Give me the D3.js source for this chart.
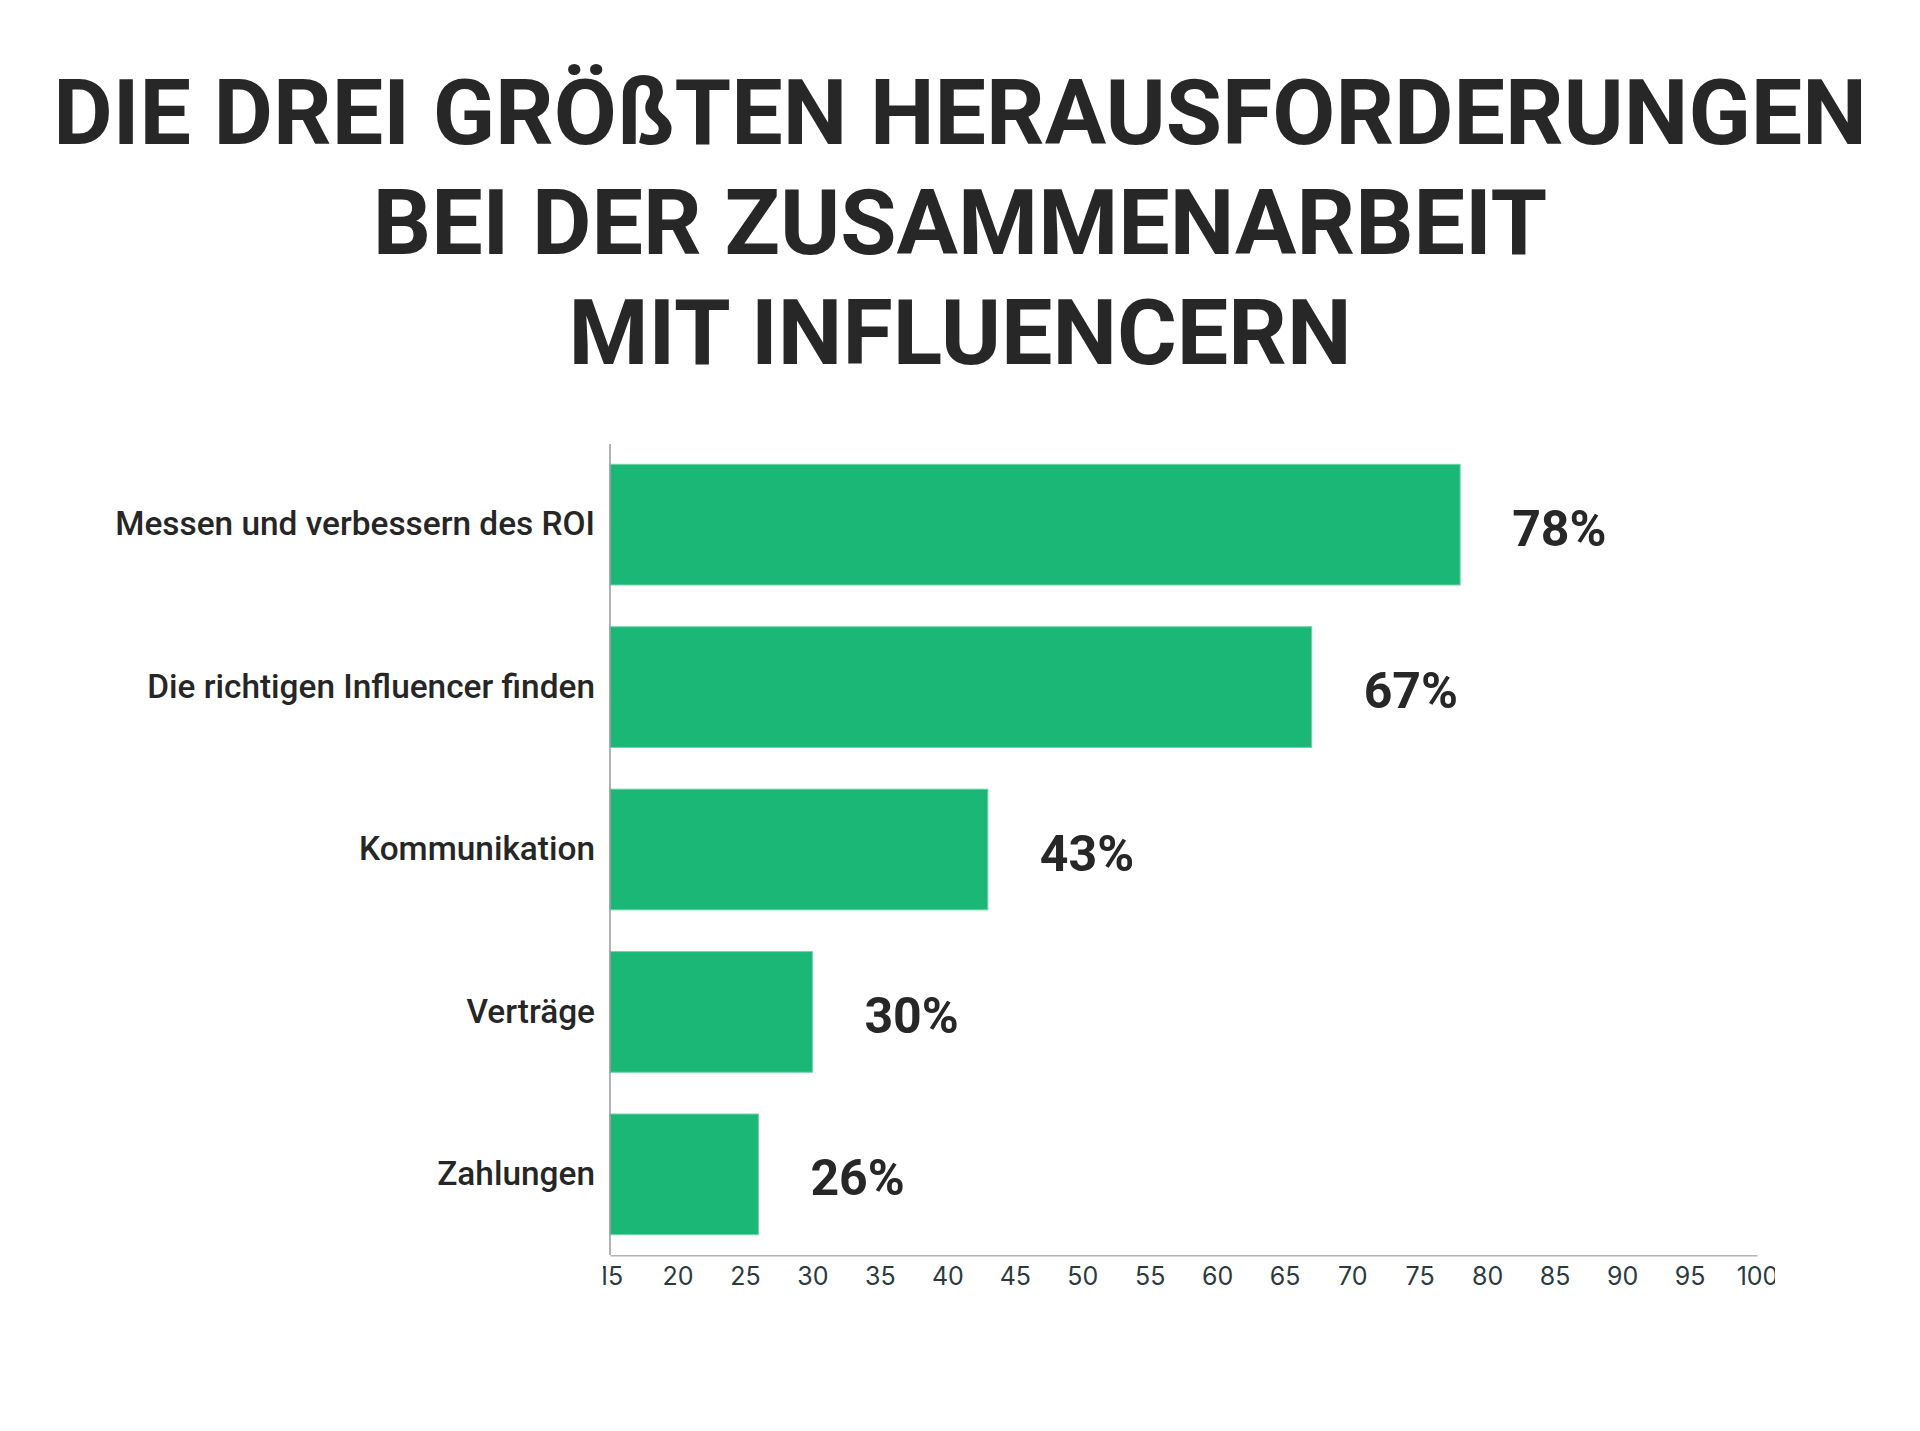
<!DOCTYPE html>
<html>
<head>
<meta charset="utf-8">
<script src="https://cdn.jsdelivr.net/npm/d3@7"></script>
<style>
  html, body { margin: 0; padding: 0; background: #fff; }
  svg { display: block; }
</style>
</head>
<body>
<div id="chart"></div>
<script>
const titleLines = [
  'DIE DREI GRÖßTEN HERAUSFORDERUNGEN',
  'BEI DER ZUSAMMENARBEIT',
  'MIT INFLUENCERN'
];
const categories = [
  'Messen und verbessern des ROI',
  'Die richtigen Influencer finden',
  'Kommunikation',
  'Verträge',
  'Zahlungen'
];
const values = [78, 67, 43, 30, 26];
const tickValues = [15, 20, 25, 30, 35, 40, 45, 50, 55, 60, 65, 70, 75, 80, 85, 90, 95, 100];

const W = 1920, H = 1431;
const svg = d3.select('#chart').append('svg')
  .attr('width', W)
  .attr('height', H);

svg.append('rect').attr('width', W).attr('height', H).attr('fill', '#fff');

// title
svg.append('g')
  .selectAll('text')
  .data(titleLines)
  .join('text')
  .attr('x', W / 2)
  .attr('y', (d, i) => 144 + i * 110)
  .attr('text-anchor', 'middle')
  .attr('font-family', 'Roboto, sans-serif')
  .attr('font-weight', 700)
  .attr('font-size', 91.5)
  .attr('fill', '#272727')
  .text(d => d);

const x = d3.scaleLinear().domain([15, 100]).range([610, 1757]);
const y = d3.scaleBand()
  .domain(categories)
  .range([444, 1255])
  .paddingInner(0.257)
  .paddingOuter(0.125);

svg.append('defs').append('clipPath')
  .attr('id', 'tickclip')
  .append('rect')
  .attr('x', 603).attr('y', 1255)
  .attr('width', 1775 - 603).attr('height', 60);

// bars
svg.append('g')
  .selectAll('rect')
  .data(values)
  .join('rect')
  .attr('x', x(15))
  .attr('y', (d, i) => y(categories[i]))
  .attr('width', d => x(d) - x(15))
  .attr('height', y.bandwidth())
  .attr('fill', '#1ab777')
  .attr('stroke', '#6fd3a8')
  .attr('stroke-width', 1);

// value labels
svg.append('g')
  .selectAll('text')
  .data(values)
  .join('text')
  .attr('x', d => x(d) + 52)
  .attr('y', (d, i) => y(categories[i]) + y.bandwidth() / 2 + 3)
  .attr('dy', '0.36em')
  .attr('font-family', 'Roboto, sans-serif')
  .attr('font-weight', 700)
  .attr('font-size', 50)
  .attr('fill', '#272727')
  .text(d => d + '%');

// y axis (line + labels)
const yAxis = svg.append('g')
  .attr('transform', `translate(${x(15)},0)`)
  .call(d3.axisLeft(y).tickSize(0).tickPadding(15));
yAxis.select('.domain')
  .attr('d', `M0,444V1255`)
  .attr('stroke', '#9a9a9a')
  .attr('stroke-width', 1.5);
yAxis.selectAll('text')
  .attr('font-family', 'Roboto, sans-serif')
  .attr('font-weight', 500)
  .attr('font-size', 33.4)
  .attr('fill', '#262626');

// x axis
const xAxis = svg.append('g')
  .attr('transform', 'translate(0,1255)')
  .call(d3.axisBottom(x).tickValues(tickValues).tickSize(0).tickPadding(12));
xAxis.select('.domain')
  .attr('stroke', '#b4b4b4')
  .attr('stroke-width', 2);
xAxis.selectAll('.tick text')
  .attr('font-family', 'Inter, sans-serif')
  .attr('font-size', 25)
  .attr('fill', '#2c3a40')
  .attr('dy', '0.71em');
svg.append('g').attr('clip-path', 'url(#tickclip)').node().appendChild(xAxis.node());
</script>
</body>
</html>
